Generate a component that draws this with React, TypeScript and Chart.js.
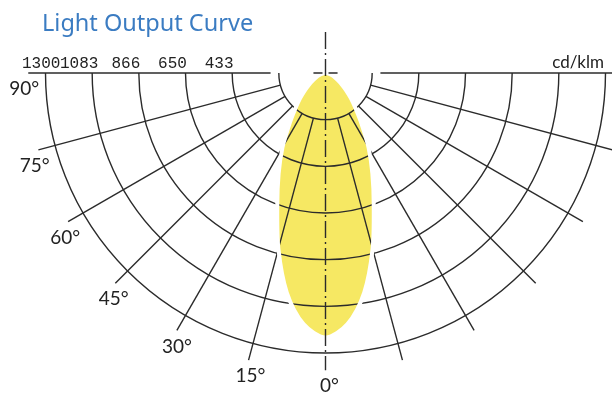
import React, { useEffect, useRef } from 'react';
import { Chart, registerables } from 'chart.js';

Chart.register(...registerables);

// ---------- data ----------
const TITLE = 'Light Output Curve';
const UNIT = 'cd/klm';
// beam angle from nadir (deg) and luminous intensity (cd/klm), symmetric curve
const ANGLES = [0, 5, 10, 15, 20, 25, 30, 35, 40, 45, 50, 55, 60, 65, 70, 75, 80, 85, 90];
const INTENSITY = [1228, 1170, 1035, 845, 655, 515, 400, 295, 220, 168, 125, 92, 66, 47, 33, 22, 13, 6, 0];
// concentric rings (cd/klm) and their tick labels
const RING_VALUES = [216.7, 433.3, 650, 866.7, 1083.3, 1300];
const RING_LABELS = ['', '433', '650', '866', '1083', '1300'];
// spokes and angle labels (left side only)
const SPOKE_ANGLES = [-90, -75, -60, -45, -30, -15, 0, 15, 30, 45, 60, 75, 90];
const LABEL_ANGLES = [-90, -75, -60, -45, -30, -15, 0];
const ANGLE_LABELS = ['90°', '75°', '60°', '45°', '30°', '15°', '0°'];

// ---------- layout / style ----------
const U = 1300 / 280; // data units per pixel (equal aspect)
const X_MIN = -325.5 * U;
const X_MAX = 286.5 * U;
const Y_MIN = -321 * U;
const Y_MAX = 73 * U;
const SPOKE_END = 1380;
const HORIZ_START = 255;
const AXIS_TOP = 190;
const CROSS_IN = 14;
const CROSS_OUT = 56;
const LINE = '#2b2b2b';
const YELLOW = '#f6e863';
const TITLE_COLOR = '#3b7cc2';

const polar = (deg: number, r: number) => {
  const t = (deg * Math.PI) / 180;
  return { x: r * Math.sin(t), y: -r * Math.cos(t) };
};

const curvePoints = () => {
  const pts: { x: number; y: number }[] = [];
  for (let i = ANGLES.length - 1; i >= 0; i--) pts.push(polar(-ANGLES[i], INTENSITY[i]));
  for (let i = 1; i < ANGLES.length; i++) pts.push(polar(ANGLES[i], INTENSITY[i]));
  return pts;
};

const polarGrid = {
  id: 'polarGrid',
  beforeDatasetsDraw(chart: any) {
    const { ctx } = chart;
    const xs = chart.scales.x;
    const ys = chart.scales.y;
    const cx = xs.getPixelForValue(0);
    const cy = ys.getPixelForValue(0);
    ctx.save();
    ctx.strokeStyle = LINE;
    ctx.lineWidth = 1.4;
    RING_VALUES.forEach((v) => {
      const r = xs.getPixelForValue(v) - cx;
      ctx.beginPath();
      ctx.arc(cx, cy, r, 0, Math.PI);
      ctx.stroke();
    });
    SPOKE_ANGLES.forEach((a) => {
      if (a === 0) return;
      const inner = Math.abs(a) === 90 ? HORIZ_START : RING_VALUES[0];
      const s = polar(a, inner);
      const e = polar(a, SPOKE_END);
      ctx.beginPath();
      ctx.moveTo(xs.getPixelForValue(s.x), ys.getPixelForValue(s.y));
      ctx.lineTo(xs.getPixelForValue(e.x), ys.getPixelForValue(e.y));
      ctx.stroke();
    });
    ctx.restore();
  },
  afterDatasetsDraw(chart: any) {
    const { ctx } = chart;
    const xs = chart.scales.x;
    const ys = chart.scales.y;
    const cx = xs.getPixelForValue(0);
    const cy = ys.getPixelForValue(0);
    ctx.save();
    ctx.strokeStyle = LINE;
    ctx.lineWidth = 1.4;
    // dash-dot nadir axis
    ctx.setLineDash([17, 4, 2, 4]);
    ctx.beginPath();
    ctx.moveTo(cx, ys.getPixelForValue(AXIS_TOP));
    ctx.lineTo(cx, ys.getPixelForValue(-SPOKE_END));
    ctx.stroke();
    ctx.setLineDash([]);
    // centre cross
    ctx.beginPath();
    ctx.moveTo(xs.getPixelForValue(-CROSS_OUT), cy);
    ctx.lineTo(xs.getPixelForValue(-CROSS_IN), cy);
    ctx.moveTo(xs.getPixelForValue(CROSS_IN), cy);
    ctx.lineTo(xs.getPixelForValue(CROSS_OUT), cy);
    ctx.stroke();

    // angle labels
    ctx.fillStyle = '#222';
    ctx.font = '19px Lato, "DejaVu Sans", sans-serif';
    ctx.textAlign = 'center';
    ctx.textBaseline = 'top';
    LABEL_ANGLES.forEach((a, i) => {
      const e = polar(a, SPOKE_END);
      const dx = 4 - 8 * Math.sin((Math.abs(a) * Math.PI) / 180);
      ctx.fillText(ANGLE_LABELS[i], xs.getPixelForValue(e.x) + dx, ys.getPixelForValue(e.y) + 6.5);
    });

    // ring value labels
    ctx.font = '16px "Liberation Mono", "DejaVu Sans Mono", monospace';
    ctx.textBaseline = 'alphabetic';
    ctx.textAlign = 'center';
    RING_VALUES.forEach((v, i) => {
      if (!RING_LABELS[i]) return;
      const w = ctx.measureText(RING_LABELS[i]).width;
      const lx = Math.max(xs.getPixelForValue(-v) - 13, chart.chartArea.left + 22 + w / 2);
      ctx.fillText(RING_LABELS[i], lx, cy - 5);
    });

    // unit
    ctx.font = '17px Lato, "DejaVu Sans", sans-serif';
    ctx.textAlign = 'right';
    ctx.fillText(UNIT, chart.chartArea.right - 8, cy - 5);

    // title
    ctx.font = '23.5px "Noto Sans", "Open Sans", sans-serif';
    ctx.fillStyle = TITLE_COLOR;
    ctx.textAlign = 'left';
    ctx.fillText(TITLE, chart.chartArea.left + 42, chart.chartArea.top + 31);
    ctx.restore();
  },
};

export default function App() {
  const ref = useRef<HTMLCanvasElement>(null);
  useEffect(() => {
    document.body.style.margin = '0';
    const chart = new Chart(ref.current as HTMLCanvasElement, {
      type: 'scatter',
      data: {
        datasets: [
          {
            label: 'Intensity',
            data: curvePoints(),
            showLine: true,
            borderColor: '#ffffff',
            borderWidth: 4,
            backgroundColor: YELLOW,
            fill: 'shape',
            pointRadius: 0,
            tension: 0.3,
          } as any,
        ],
      },
      options: {
        animation: false,
        responsive: false,
        maintainAspectRatio: false,
        events: [],
        layout: { padding: 0 },
        scales: {
          x: { type: 'linear', min: X_MIN, max: X_MAX, display: false },
          y: { type: 'linear', min: Y_MIN, max: Y_MAX, display: false },
        },
        plugins: {
          legend: { display: false },
          tooltip: { enabled: false },
          filler: { propagate: false, drawTime: 'beforeDatasetsDraw' },
        } as any,
      },
      plugins: [polarGrid],
    });
    return () => chart.destroy();
  }, []);
  return (
    <div style={{ width: 612, height: 394, background: '#fff' }}>
      <canvas ref={ref} width={612} height={394} style={{ display: 'block' }} />
    </div>
  );
}
